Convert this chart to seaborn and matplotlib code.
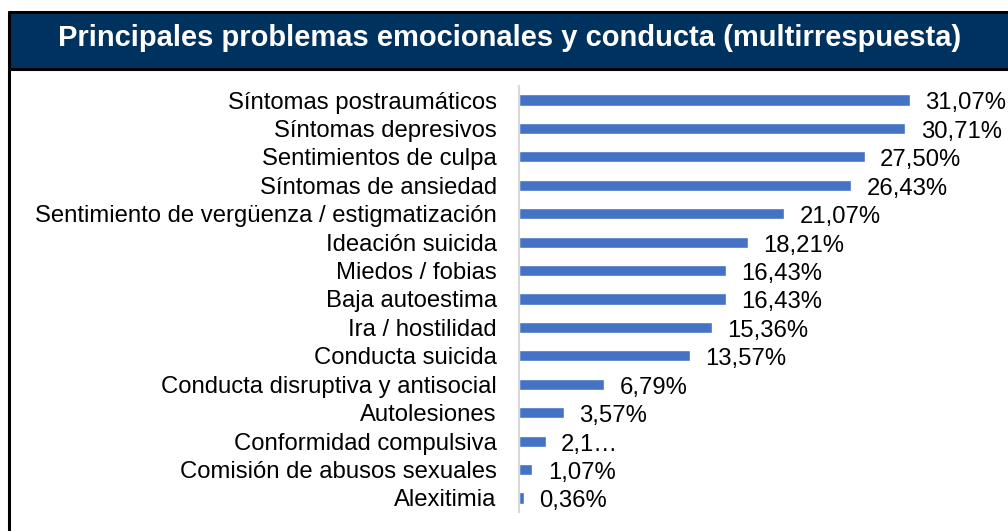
import matplotlib
matplotlib.use("Agg")
import matplotlib.pyplot as plt
from matplotlib.patches import Rectangle
from matplotlib.lines import Line2D
import seaborn as sns
import pandas as pd

categories = [
    "Síntomas postraumáticos",
    "Síntomas depresivos",
    "Sentimientos de culpa",
    "Síntomas de ansiedad",
    "Sentimiento de vergüenza / estigmatización",
    "Ideación suicida",
    "Miedos / fobias",
    "Baja autoestima",
    "Ira / hostilidad",
    "Conducta suicida",
    "Conducta disruptiva y antisocial",
    "Autolesiones",
    "Conformidad compulsiva",
    "Comisión de abusos sexuales",
    "Alexitimia",
]
values = [31.07, 30.71, 27.50, 26.43, 21.07, 18.21, 16.43, 16.43, 15.36,
          13.57, 6.79, 3.57, 2.14, 1.07, 0.36]
value_labels = ["31,07%", "30,71%", "27,50%", "26,43%", "21,07%", "18,21%",
                "16,43%", "16,43%", "15,36%", "13,57%", "6,79%", "3,57%",
                "2,1…", "1,07%", "0,36%"]
title = "Principales problemas emocionales y conducta (multirrespuesta)"

W, H, DPI = 1008, 531, 100
sns.set_theme(style="white")
plt.rcParams["font.family"] = ["Liberation Sans", "DejaVu Sans"]

fig = plt.figure(figsize=(W / DPI, H / DPI), dpi=DPI)
fig.patch.set_facecolor("white")


def fx(px):
    return px / W


def fy(py):
    return 1 - py / H


# header band and frame
fig.add_artist(Rectangle((fx(9), fy(69)), fx(W) - fx(9), fy(12) - fy(69),
                         transform=fig.transFigure, facecolor="#00325F",
                         edgecolor="none", zorder=0))
for xs, ys in [((9, W), (12, 12)), ((9, W), (69, 69)), ((9, 9), (12, H))]:
    fig.add_artist(Line2D([fx(x) for x in xs], [fy(y) for y in ys],
                          transform=fig.transFigure, color="black", lw=2.2))
fig.text(fx(510), fy(38), title, color="white", fontsize=21,
         fontweight="bold", ha="center", va="center")

# bar panel
left, right, top, bottom = 519, 990, 85.8, 512.2
ax = fig.add_axes([fx(left), fy(bottom), fx(right - left), (bottom - top) / H])
df = pd.DataFrame({"cat": categories, "val": values})
sns.barplot(data=df, x="val", y="cat", orient="h", color="#4472C4",
            saturation=1, width=0.39, ax=ax)
ax.set_xlim(0, (right - left) / 12.58)
ax.set_ylim(len(categories) - 0.5, -0.5)
anns = ax.bar_label(ax.containers[0], labels=value_labels, padding=11,
                    fontsize=17.2, color="black")
for a in anns:
    a.xyann = (11, -2.5)
ax.set_xlabel("")
ax.set_ylabel("")
ax.set_xticks([])
ax.tick_params(axis="y", length=0, pad=16, labelsize=17.2, labelcolor="black")
for s in ["top", "right", "bottom"]:
    ax.spines[s].set_visible(False)
ax.spines["left"].set_color("#D9D9D9")
ax.spines["left"].set_linewidth(1.5)
ax.patch.set_alpha(0)

fig.savefig("out.png", dpi=DPI)
